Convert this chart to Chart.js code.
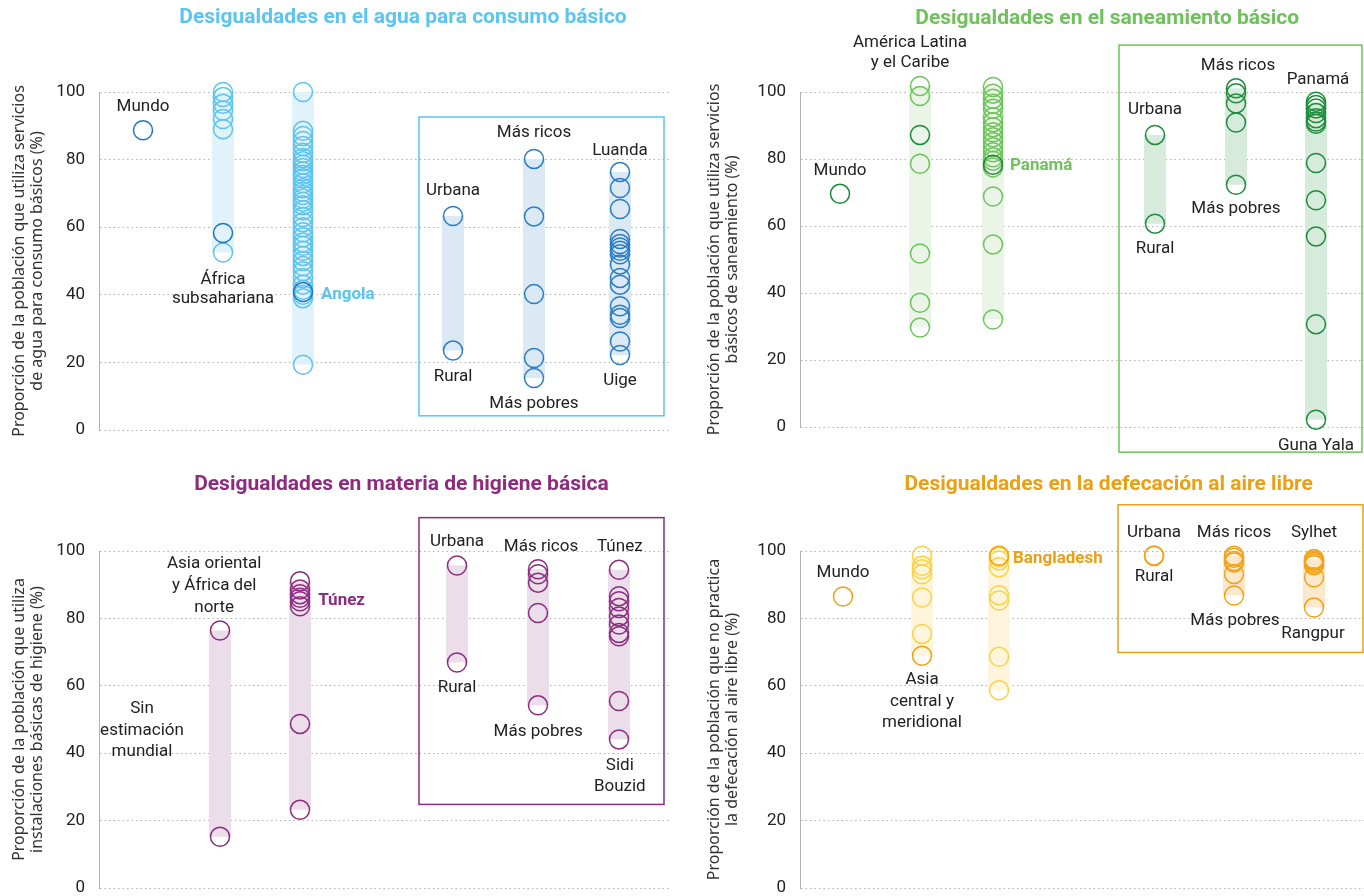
<!DOCTYPE html>
<html>
<head>
<meta charset="utf-8">
<script src="https://cdn.jsdelivr.net/npm/chart.js@4.4.1/dist/chart.umd.min.js"></script>
<style>
html,body{margin:0;padding:0;background:#fff;}
#wrap{position:relative;width:1364px;height:896px;overflow:hidden;}
#wrap canvas{position:absolute;left:0;top:0;}
</style>
</head>
<body>
<div id="wrap">
<canvas id="c1" width="1400" height="1000"></canvas>
<canvas id="c2" width="1400" height="1000"></canvas>
<canvas id="c3" width="1400" height="1000"></canvas>
<canvas id="c4" width="1400" height="1000"></canvas>
</div>
<script>
// ---------------- DATA ----------------
const yTicks = [0, 20, 40, 60, 80, 100];

// Panel 1: agua para consumo básico (%)
const aguaMundo = [88.7];
const aguaRegionesSSA = [100, 98.5, 96.5, 94.5, 92, 89, 52.5];
const aguaAfricaSub = [58.3];
const aguaPaisesSSA = [100, 88.5, 87, 85.5, 84, 82, 80.5, 79.5, 78.5, 77.5, 76.5, 75.5, 74.5, 73, 71.5, 70.5, 69.5, 68.5, 67.5, 66.5, 65, 63, 61.5, 60, 58.5, 57, 55.5, 54.5, 53, 51.5, 50, 48.5, 47, 45, 43, 41.5, 40, 39, 19.3];
const aguaAngola = [40.8];
const aguaUrbanaRural = [63.3, 23.5];
const aguaQuintiles = [80.2, 63.2, 40.2, 21.3, 15.4];
const aguaProvincias = [76.3, 71.6, 65.4, 56.5, 55, 54, 53, 52, 49, 45, 43, 36.6, 34.1, 33.1, 26.2, 22.2];

// Panel 2: saneamiento básico (%)
const sanMundo = [69.6];
const sanPaisesALCsub = [101.8, 98.8, 78.6, 51.8, 37.1, 29.7];
const sanALC = [87.2];
const sanPaisesALC = [101.5, 99.5, 98, 96.5, 95, 92.5, 91, 89.5, 88, 86.5, 85, 83.5, 82, 80.5, 79.5, 77.5, 68.8, 54.5, 32.1];
const sanPanama = [78.3];
const sanUrbanaRural = [87.2, 60.7];
const sanQuintiles = [101.1, 99.6, 96.6, 90.9, 72.3];
const sanProvincias = [97.1, 96.1, 95.1, 93.7, 92.2, 91.2, 90.5, 78.8, 67.7, 56.9, 30.7, 2.2];

// Panel 3: higiene básica (%)
const higAsiaOrAfN = [76.4, 15.2];
const higPaises = [91, 88.6, 87.2, 86.1, 85.1, 83.6, 48.7, 23.2];
const higUrbanaRural = [95.7, 66.9];
const higQuintiles = [94.6, 93.1, 90.6, 81.6, 54.2];
const higProvincias = [94.4, 86.6, 85.1, 83.1, 80.6, 78.2, 75.7, 74.7, 55.5, 44.1];

// Panel 4: no practica la defecación al aire libre (%)
const defMundo = [86.5];
const defRegionesAsia = [98.6, 95.6, 94.6, 93.1, 86.2, 75.4];
const defAsiaCM = [68.9];
const defPaises = [98.2, 97.2, 95.2, 86.9, 85.3, 68.6, 58.7];
const defBangladesh = [98.6];
const defUrbanaRural = [98.7, 98.5];
const defQuintiles = [98.6, 98, 97, 96.6, 93.2, 86.8];
const defDivisiones = [97.6, 97.2, 96.8, 96.3, 95.8, 92.2, 83.2];

// ---------------- STYLE / LAYOUT ----------------
Chart.defaults.font.family = 'Roboto';
const TXT = '#222';

const decor = {
  id: 'decor',
  beforeDatasetsDraw(chart, args, o) {
    const {ctx, scales: {x, y}} = chart;
    if (o.box) {
      const b = o.box;
      const x0 = x.getPixelForValue(b.x0), x1 = x.getPixelForValue(b.x1);
      const y0 = y.getPixelForValue(b.y0), y1 = y.getPixelForValue(b.y1);
      ctx.save();
      ctx.strokeStyle = o.boxColor; ctx.lineWidth = 1.5;
      ctx.strokeRect(x0, y0, x1 - x0, y1 - y0);
      ctx.restore();
    }
  },
  afterDatasetsDraw(chart, args, o) {
    const {ctx, scales: {x, y}} = chart;
    ctx.save();
    ctx.textBaseline = 'middle';
    ctx.font = 'bold 21px Roboto';
    ctx.fillStyle = o.titleColor;
    ctx.textAlign = 'center';
    ctx.fillText(o.title, x.getPixelForValue(o.titleAt[0]), y.getPixelForValue(o.titleAt[1]));
    (o.labels || []).forEach(l => {
      ctx.font = (l.bold ? 'bold ' : '') + '17px Roboto';
      ctx.fillStyle = l.bold ? o.hlColor : TXT;
      ctx.textAlign = l.bold ? 'left' : 'center';
      ctx.fillText(l.t, x.getPixelForValue(l.x), y.getPixelForValue(l.y));
    });
    ctx.restore();
  }
};

function makeChart(id, p) {
  const datasets = [];
  p.columns.forEach(col => {
    const all = [].concat(...col.groups.map(g => g.v));
    col.groups.forEach(g => {
      datasets.push({
        type: 'scatter',
        data: g.v.map(v => ({x: col.x, y: v})),
        pointRadius: 9.5,
        pointBorderWidth: 1.5,
        pointBorderColor: g.c,
        pointBackgroundColor: 'rgba(255,255,255,0)',
        clip: false,
        order: g.top ? 0 : 1
      });
    });
    if (col.bar && all.length > 1) {
      datasets.push({
        type: 'line',
        data: [{x: col.x, y: Math.min(...all)}, {x: col.x, y: Math.max(...all)}],
        borderColor: col.bar,
        borderWidth: 22,
        borderCapStyle: 'butt',
        pointRadius: 0,
        fill: false,
        clip: false,
        order: 2
      });
    }
  });
  return new Chart(document.getElementById(id), {
    type: 'scatter',
    data: {datasets},
    options: {
      responsive: false,
      animation: false,
      devicePixelRatio: 1,
      layout: {padding: p.pad},
      plugins: {
        legend: {display: false},
        tooltip: {enabled: false},
        decor: p.decor
      },
      events: [],
      scales: {
        x: {type: 'linear', min: p.xMin, max: p.xMax, display: false},
        y: {
          min: 0, max: 100,
          afterBuildTicks(s) { s.ticks = yTicks.map(v => ({value: v})); },
          afterFit(s) { s.width = p.axisW; },
          ticks: {padding: p.tickPad, color: TXT, font: {family: 'Roboto', size: 17}},
          grid: {color: '#b3b3b3', lineWidth: 1, drawTicks: false},
          border: {display: true, color: '#b3b3b3', dash: [1.5, 3]},
          title: {
            display: true, text: p.yTitle, color: '#333',
            font: {family: 'Noto Sans', size: 16, lineHeight: 1.15},
            padding: {top: 2, bottom: 0}
          }
        }
      }
    },
    plugins: [decor]
  });
}

// Panel 1
const A = {light: '#5BC4F0', dark: '#1D75C2', bar: '#E1F2FA', boxBar: '#DAE9F4', boxPt: '#2A7DC6'};
makeChart('c1', {
  pad: {left: 8, right: 730, top: 92, bottom: 570},
  axisW: 91, tickPad: 14, xMin: 0.45, xMax: 7.5875,
  yTitle: ['Proporción de la población que utiliza servicios', 'de agua para consumo básicos (%)'],
  columns: [
    {x: 1, groups: [{v: aguaMundo, c: A.dark}]},
    {x: 2, bar: A.bar, groups: [{v: aguaRegionesSSA, c: A.light}, {v: aguaAfricaSub, c: A.dark, top: true}]},
    {x: 3, bar: A.bar, groups: [{v: aguaPaisesSSA, c: A.light}, {v: aguaAngola, c: A.dark, top: true}]},
    {x: 4.875, bar: A.boxBar, groups: [{v: aguaUrbanaRural, c: A.boxPt}]},
    {x: 5.8875, bar: A.boxBar, groups: [{v: aguaQuintiles, c: A.boxPt}]},
    {x: 6.9625, bar: A.boxBar, groups: [{v: aguaProvincias, c: A.boxPt}]}
  ],
  decor: {
    title: 'Desigualdades en el agua para consumo básico', titleColor: '#5BC4F0', titleAt: [4.25, 122],
    hlColor: '#5BC4F0',
    box: {x0: 4.45, x1: 7.5125, y0: 92.6, y1: 4.2}, boxColor: '#5BC4F0',
    labels: [
      {t: 'Mundo', x: 1, y: 95.5},
      {t: 'África', x: 2, y: 44.6}, {t: 'subsahariana', x: 2, y: 38.7},
      {t: 'Angola', x: 3.225, y: 39.9, bold: true},
      {t: 'Urbana', x: 4.875, y: 70.8}, {t: 'Rural', x: 4.875, y: 15.8},
      {t: 'Más ricos', x: 5.8875, y: 87.8}, {t: 'Más pobres', x: 5.8875, y: 7.7},
      {t: 'Luanda', x: 6.9625, y: 82.7}, {t: 'Uige', x: 6.9625, y: 14.6}
    ]
  }
});

// Panel 2
const S = {light: '#6DC55A', dark: '#178A38', bar: '#EAF5E7', boxBar: '#D6EBDB', boxPt: '#1E8C3C'};
makeChart('c2', {
  pad: {left: 703, right: 36, top: 92, bottom: 573},
  axisW: 97, tickPad: 14, xMin: 0.5, xMax: 7.55,
  yTitle: ['Proporción de la población que utiliza servicios', 'básicos de saneamiento (%)'],
  columns: [
    {x: 1, groups: [{v: sanMundo, c: S.dark}]},
    {x: 2, bar: S.bar, groups: [{v: sanPaisesALCsub, c: S.light}, {v: sanALC, c: S.dark, top: true}]},
    {x: 2.9125, bar: S.bar, groups: [{v: sanPaisesALC, c: S.light}, {v: sanPanama, c: S.dark, top: true}]},
    {x: 4.9375, bar: S.boxBar, groups: [{v: sanUrbanaRural, c: S.boxPt}]},
    {x: 5.95, bar: S.boxBar, groups: [{v: sanQuintiles, c: S.boxPt}]},
    {x: 6.95, bar: S.boxBar, groups: [{v: sanProvincias, c: S.boxPt}]}
  ],
  decor: {
    title: 'Desigualdades en el saneamiento básico', titleColor: '#6DC25A', titleAt: [4.34, 122],
    hlColor: '#6DC25A',
    box: {x0: 4.4875, x1: 7.525, y0: 114, y1: -7.5}, boxColor: '#6DC25A',
    labels: [
      {t: 'Mundo', x: 1, y: 76.4},
      {t: 'América Latina', x: 1.875, y: 114.6}, {t: 'y el Caribe', x: 1.875, y: 108.7},
      {t: 'Panamá', x: 3.125, y: 77.9, bold: true},
      {t: 'Urbana', x: 4.9375, y: 94.6}, {t: 'Rural', x: 4.9375, y: 53.1},
      {t: 'Más ricos', x: 5.975, y: 107.8}, {t: 'Más pobres', x: 5.95, y: 65.1},
      {t: 'Panamá', x: 6.975, y: 103.6}, {t: 'Guna Yala', x: 6.95, y: -5.6}
    ]
  }
});

// Panel 3
const H = {c: '#8B2C7F', bar: '#EBDDE9'};
makeChart('c3', {
  pad: {left: 8, right: 730, top: 551, bottom: 112},
  axisW: 91, tickPad: 14, xMin: 0.45, xMax: 7.5875,
  yTitle: ['Proporción de la población que utiliza', 'instalaciones básicas de higiene (%)'],
  columns: [
    {x: 1.9625, bar: H.bar, groups: [{v: higAsiaOrAfN, c: H.c}]},
    {x: 2.9625, bar: H.bar, groups: [{v: higPaises, c: H.c}]},
    {x: 4.925, bar: H.bar, groups: [{v: higUrbanaRural, c: H.c}]},
    {x: 5.9375, bar: H.bar, groups: [{v: higQuintiles, c: H.c}]},
    {x: 6.95, bar: H.bar, groups: [{v: higProvincias, c: H.c}]}
  ],
  decor: {
    title: 'Desigualdades en materia de higiene básica', titleColor: '#8B2C7F', titleAt: [4.23, 119.7],
    hlColor: '#8B2C7F',
    box: {x0: 4.45, x1: 7.5125, y0: 109.9, y1: 24.8}, boxColor: '#8B2C7F',
    labels: [
      {t: 'Sin', x: 0.9875, y: 53.1}, {t: 'estimación', x: 0.9875, y: 46.6}, {t: 'mundial', x: 0.9875, y: 40.3},
      {t: 'Asia oriental', x: 1.89, y: 96.1}, {t: 'y África del', x: 1.89, y: 89.6}, {t: 'norte', x: 1.89, y: 83.3},
      {t: 'Túnez', x: 3.19, y: 85.1, bold: true},
      {t: 'Urbana', x: 4.925, y: 102.7}, {t: 'Rural', x: 4.925, y: 59.4},
      {t: 'Más ricos', x: 5.975, y: 101.2}, {t: 'Más pobres', x: 5.94, y: 46.3},
      {t: 'Túnez', x: 6.96, y: 101.2}, {t: 'Sidi', x: 6.96, y: 36.4}, {t: 'Bouzid', x: 6.96, y: 29.9}
    ]
  }
});

// Panel 4
const D = {light: '#FBD246', dark: '#F0A00A', bar: '#FEF5DC', boxBar: '#FCE8CB', boxPt: '#F2A31A'};
makeChart('c4', {
  pad: {left: 703, right: 36, top: 551, bottom: 112},
  axisW: 97, tickPad: 14, xMin: 0.4625, xMax: 7.5125,
  yTitle: ['Proporción de la población que no practica', 'la defecación al aire libre (%)'],
  columns: [
    {x: 1, groups: [{v: defMundo, c: D.dark}]},
    {x: 1.9875, bar: D.bar, groups: [{v: defRegionesAsia, c: D.light}, {v: defAsiaCM, c: D.dark, top: true}]},
    {x: 2.95, bar: D.bar, groups: [{v: defPaises, c: D.light}, {v: defBangladesh, c: D.dark, top: true}]},
    {x: 4.8875, bar: D.boxBar, groups: [{v: defUrbanaRural, c: D.boxPt}]},
    {x: 5.8875, bar: D.boxBar, groups: [{v: defQuintiles, c: D.boxPt}]},
    {x: 6.8875, bar: D.boxBar, groups: [{v: defDivisiones, c: D.boxPt}]}
  ],
  decor: {
    title: 'Desigualdades en la defecación al aire libre', titleColor: '#E9A015', titleAt: [4.32, 119.7],
    hlColor: '#E9A015',
    box: {x0: 4.4375, x1: 7.5, y0: 113.7, y1: 69.9}, boxColor: '#E9A015',
    labels: [
      {t: 'Mundo', x: 1, y: 93.4},
      {t: 'Asia', x: 1.9875, y: 61.8}, {t: 'central y', x: 1.9875, y: 55.2}, {t: 'meridional', x: 1.9875, y: 49},
      {t: 'Bangladesh', x: 3.125, y: 97.6, bold: true},
      {t: 'Urbana', x: 4.8875, y: 105.4}, {t: 'Rural', x: 4.8875, y: 92.5},
      {t: 'Más ricos', x: 5.8875, y: 105.4}, {t: 'Más pobres', x: 5.9, y: 79.4},
      {t: 'Sylhet', x: 6.8875, y: 105.4}, {t: 'Rangpur', x: 6.875, y: 75.5}
    ]
  }
});
</script>
</body>
</html>
